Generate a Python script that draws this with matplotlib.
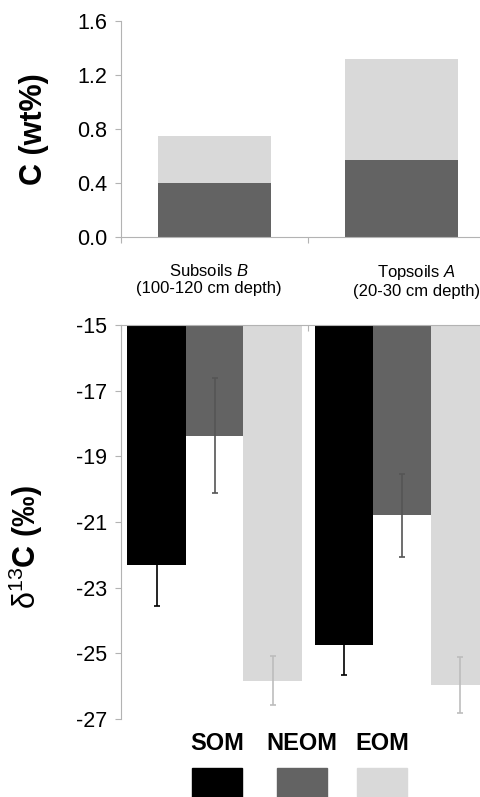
import matplotlib
matplotlib.use("Agg")
import matplotlib.pyplot as plt
from matplotlib.patches import Rectangle
import numpy as np

plt.rcParams['font.family'] = ['Liberation Sans', 'DejaVu Sans']
plt.rcParams['mathtext.fontset'] = 'custom'
plt.rcParams['mathtext.rm'] = 'Liberation Sans'
plt.rcParams['mathtext.it'] = 'Liberation Sans:italic'
plt.rcParams['mathtext.bf'] = 'Liberation Sans:bold'

# ---- data ----
sites = ["Subsoils $\\mathit{B}$\n(100-120 cm depth)", "Topsoils $\\mathit{A}$\n(20-30 cm depth)"]
fractions = ["SOM", "NEOM", "EOM"]
c_neom = [0.40, 0.57]
c_eom = [0.345, 0.75]
d13c_som = [-22.3, -24.75]
d13c_neom = [-18.37, -20.8]
d13c_eom = [-25.83, -25.97]
err_som = [1.27, 0.9]
err_neom = [1.75, 1.27]
err_eom = [0.74, 0.85]
top_yticks = [0.0, 0.4, 0.8, 1.2, 1.6]
bot_yticks = [-15, -17, -19, -21, -23, -25, -27]

col_som = "#000000"
col_neom = "#636363"
col_eom = "#d9d9d9"
err_cols = ["#000000", "#555555", "#bdbdbd"]
spine_col = "#b3b3b3"

W, H = 481, 797
fig = plt.figure(figsize=(W / 100, H / 100), dpi=100)

left = 121 / W
width = 374 / W
tick_fs = 15.5

# ---- top chart ----
ax1 = fig.add_axes([left, (H - 237) / H, width, (237 - 21) / H])
x = np.arange(len(sites)) + 0.5
ax1.bar(x, c_neom, width=0.6, color=col_neom)
ax1.bar(x, c_eom, width=0.6, bottom=c_neom, color=col_eom)
ax1.set_xlim(0, 2)
ax1.set_ylim(0, 1.6)
ax1.set_yticks(top_yticks)
ax1.set_yticklabels([f"{v:.1f}" for v in top_yticks], fontsize=tick_fs)
ax1.set_xticks([0, 1, 2])
ax1.set_xticklabels([])
label_shift = [-0.03, 0.08]
for xi, sh, lab in zip(x, label_shift, sites):
    ax1.text(xi + sh, -0.19, lab, ha="center", va="top", fontsize=12,
             linespacing=1.2, clip_on=False)
for s in ["top", "right"]:
    ax1.spines[s].set_visible(False)
for s in ["left", "bottom"]:
    ax1.spines[s].set_color(spine_col)
ax1.tick_params(axis="both", colors=spine_col, labelcolor="black", length=4)
ax1.tick_params(axis="y", pad=6)
fig.text(34 / W, 1 - 129 / H, "C (wt%)", rotation=90, ha="center", va="center",
         fontsize=22, fontweight="bold")

# ---- bottom chart ----
ax2 = fig.add_axes([left, (H - 719) / H, width, (719 - 325) / H])
bw = 174 / 374 * 2 / 3
offsets = [-bw, 0, bw]
base = -15
series = [d13c_som, d13c_neom, d13c_eom]
errs = [err_som, err_neom, err_eom]
cols = [col_som, col_neom, col_eom]
for off, vals, er, c, ec in zip(offsets, series, errs, cols, err_cols):
    vals = np.array(vals)
    ax2.bar(x + off, vals - base, bottom=base, width=bw, color=c, zorder=2)
    ax2.errorbar(x + off, vals, yerr=er, fmt="none", ecolor=ec, elinewidth=1.2,
                 capsize=2.5, capthick=1.2, zorder=3)
ax2.set_xlim(0, 2)
ax2.set_ylim(-27, -15)
ax2.set_yticks(bot_yticks)
ax2.set_yticklabels([str(v) for v in bot_yticks], fontsize=tick_fs)
ax2.xaxis.tick_top()
ax2.set_xticks([0, 1, 2])
ax2.set_xticklabels([])
ax2.tick_params(axis="x", direction="in", length=4, colors=spine_col)
ax2.tick_params(axis="y", colors=spine_col, labelcolor="black", length=4, pad=6)
for s in ["bottom", "right"]:
    ax2.spines[s].set_visible(False)
for s in ["left", "top"]:
    ax2.spines[s].set_color(spine_col)
fig.text(26 / W, 1 - 547 / H, r"$\mathrm{\delta}^{\mathrm{13}}$" + "C (‰)",
         rotation=90, ha="center", va="center", fontsize=22, fontweight="bold")

# ---- legend ----
leg_x = [217, 302, 382]
for lx, name, c in zip(leg_x, fractions, cols):
    fig.text(lx / W, 1 - 743 / H, name, ha="center", va="center",
             fontsize=17, fontweight="bold")
    fig.patches.append(Rectangle(((lx - 25) / W, 0), 50 / W, (H - 768) / H,
                                 transform=fig.transFigure, color=c, figure=fig))

fig.savefig("out.png", dpi=100)
